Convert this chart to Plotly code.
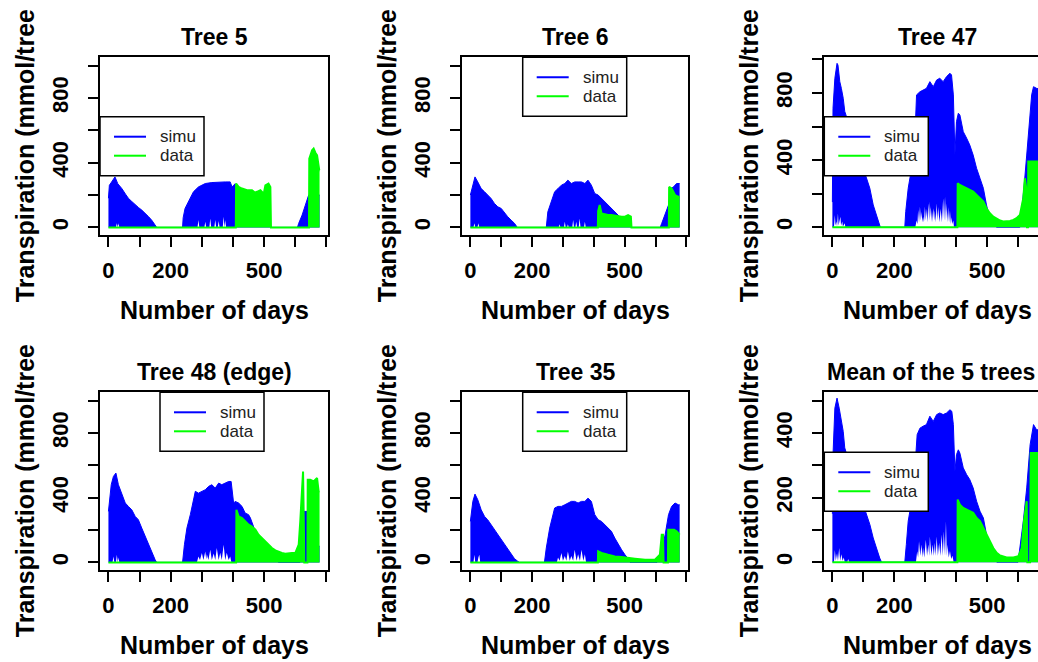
import plotly.graph_objects as go

# ---------------- data ----------------
tree5_simu_days = [0, 3, 10, 21, 30, 43, 55, 64, 75, 86, 97, 107, 118, 129, 140, 150, 155, 238, 240, 246, 257, 273, 289, 300, 311, 332, 354, 375, 391, 397, 407, 411, 450, 490, 520, 522, 607, 611, 622, 632, 643, 660, 678]
tree5_simu = [180, 260, 280, 312, 270, 240, 205, 180, 160, 138, 122, 107, 88, 66, 42, 14, 0, 0, 60, 117, 158, 220, 250, 262, 271, 277, 281, 281, 281, 250, 270, 250, 180, 100, 20, 0, 0, 25, 76, 138, 200, 200, 200]
tree5_gap_days = [24, 27, 30, 32, 35, 286, 289, 292, 308, 311, 314, 324, 327, 330, 340, 343, 346, 351, 354, 357, 367, 370, 373, 375, 378]
tree5_gap = [0, 25, 0, 25, 0, 0, 45, 0, 0, 35, 0, 0, 55, 0, 0, 45, 0, 0, 40, 0, 0, 66, 0, 45, 0]
tree5_data_days = [0, 409, 410, 418, 429, 437, 445, 461, 470, 477, 488, 495, 498, 504, 514, 520, 522, 644, 645, 654, 659, 665, 670, 677, 678]
tree5_data = [0, 0, 271, 250, 240, 235, 230, 230, 215, 220, 230, 215, 200, 260, 271, 250, 0, 0, 425, 476, 487, 460, 445, 353, 353]

tree6_simu_days = [0, 8, 15, 24, 35, 46, 56, 67, 78, 89, 100, 111, 121, 132, 143, 152, 246, 251, 262, 273, 284, 295, 306, 316, 327, 338, 349, 360, 371, 381, 392, 403, 414, 425, 436, 446, 457, 468, 479, 490, 501, 511, 522, 615, 620, 631, 642, 647, 650, 658, 668, 678]
tree6_simu = [200, 271, 312, 281, 240, 220, 200, 179, 148, 127, 117, 86, 66, 45, 25, 0, 0, 96, 158, 220, 240, 261, 271, 292, 271, 281, 281, 281, 271, 292, 261, 209, 200, 179, 158, 138, 117, 96, 76, 55, 35, 14, 0, 0, 25, 76, 138, 200, 240, 250, 271, 271]
tree6_gap_days = [10, 13, 16, 23, 26, 29, 286, 289, 292, 303, 306, 309, 313, 316, 319, 330, 333, 336, 340, 343, 346, 351, 354, 357, 368, 371, 374]
tree6_gap = [0, 25, 0, 0, 25, 0, 0, 20, 0, 0, 35, 0, 0, 20, 0, 0, 45, 0, 0, 35, 0, 0, 55, 0, 0, 35, 0]
tree6_data_days = [0, 413, 414, 419, 425, 436, 446, 457, 468, 479, 490, 501, 511, 520, 522, 643, 644, 652, 663, 674, 678]
tree6_data = [0, 0, 100, 138, 86, 80, 76, 76, 72, 70, 66, 66, 76, 66, 0, 0, 250, 240, 200, 189, 189]

tree47_simu_days = [0, 2, 8, 15, 18, 24, 29, 35, 40, 50, 60, 70, 80, 90, 100, 110, 115, 121, 132, 142, 151, 155, 234, 237, 245, 256, 266, 272, 283, 293, 304, 315, 326, 337, 347, 358, 369, 380, 385, 391, 396, 401, 407, 412, 423, 434, 444, 455, 466, 477, 488, 498, 509, 520, 531, 606, 612, 619, 628, 637, 644, 650, 660, 678]
tree47_simu = [150, 708, 887, 976, 966, 867, 827, 768, 690, 634, 578, 522, 466, 410, 355, 299, 272, 232, 133, 73, 24, 0, 0, 93, 232, 351, 510, 788, 807, 817, 827, 867, 837, 877, 887, 867, 897, 917, 907, 788, 430, 629, 679, 669, 569, 530, 490, 430, 351, 292, 232, 133, 54, 14, 0, 0, 93, 232, 430, 629, 788, 837, 827, 820]
tree47_gap_days = [5, 8, 10, 13, 15, 18, 20, 26, 28, 32, 34, 40, 42, 268, 272, 275, 277, 280, 283, 286, 288, 291, 293, 296, 299, 302, 304, 307, 310, 313, 315, 317, 318, 322, 326, 329, 331, 334, 337, 340, 342, 346, 350, 354, 358, 361, 364, 367, 369, 372, 374, 377, 380, 383, 385, 388, 391, 393]
tree47_gap = [0, 73, 10, 34, 5, 83, 10, 63, 10, 34, 5, 24, 0, 0, 40, 20, 103, 30, 123, 40, 93, 30, 63, 30, 123, 40, 110, 30, 143, 40, 153, 60, 120, 30, 113, 40, 100, 30, 143, 40, 120, 30, 110, 30, 173, 40, 183, 40, 143, 30, 120, 30, 100, 20, 60, 20, 40, 0]
tree47_data_days = [0, 404, 405, 412, 423, 434, 444, 455, 466, 477, 488, 498, 509, 520, 531, 542, 552, 563, 574, 585, 595, 606, 612, 617, 622, 626, 629, 632, 633, 650, 660, 678]
tree47_data = [0, 0, 262, 252, 242, 232, 222, 212, 192, 173, 153, 113, 83, 63, 50, 40, 34, 34, 38, 44, 54, 73, 120, 173, 292, 240, 0, 0, 391, 391, 391, 391]

tree48_simu_days = [0, 9, 16, 24, 32, 43, 54, 64, 75, 86, 96, 107, 118, 129, 139, 150, 155, 238, 244, 252, 263, 273, 279, 289, 300, 311, 322, 332, 343, 354, 364, 375, 386, 394, 402, 407, 418, 429, 439, 450, 456, 470, 490, 510, 530, 545, 615, 620, 625, 630, 639, 641, 678]
tree48_simu = [315, 480, 531, 552, 480, 418, 367, 346, 325, 284, 264, 212, 161, 109, 58, 16, 0, 0, 109, 212, 295, 377, 439, 428, 439, 449, 470, 480, 459, 490, 480, 490, 500, 500, 367, 377, 367, 346, 305, 295, 274, 200, 140, 90, 40, 0, 0, 100, 315, 315, 315, 100, 100]
tree48_gap_days = [13, 16, 19, 24, 27, 30, 32, 35, 284, 289, 294, 300, 305, 311, 314, 316, 321, 327, 332, 338, 343, 348, 354, 359, 364, 370, 375, 380, 386, 391, 395]
tree48_gap = [0, 37, 0, 0, 47, 0, 30, 0, 0, 37, 15, 58, 15, 68, 20, 50, 15, 78, 15, 55, 15, 89, 15, 60, 15, 109, 15, 60, 15, 37, 0]
tree48_data_days = [0, 410, 411, 418, 429, 439, 450, 461, 472, 482, 493, 504, 514, 525, 536, 547, 557, 568, 579, 589, 600, 611, 616, 622, 625, 628, 629, 639, 640, 648, 659, 670, 675, 678]
tree48_data = [0, 0, 325, 284, 274, 253, 233, 222, 202, 171, 150, 130, 109, 89, 74, 64, 58, 54, 58, 58, 58, 109, 253, 459, 562, 171, 0, 0, 511, 511, 500, 521, 439, 439]

tree35_simu_days = [0, 8, 15, 24, 35, 46, 56, 67, 78, 89, 100, 111, 121, 132, 143, 154, 159, 240, 246, 257, 268, 273, 284, 295, 306, 316, 327, 338, 349, 360, 371, 381, 392, 403, 414, 425, 436, 446, 457, 468, 479, 490, 501, 511, 517, 605, 609, 620, 631, 642, 652, 663, 674, 678]
tree35_simu = [253, 377, 422, 387, 325, 284, 264, 233, 202, 171, 140, 109, 78, 47, 23, 6, 0, 0, 89, 212, 295, 336, 346, 346, 356, 367, 377, 377, 367, 377, 377, 397, 377, 295, 264, 253, 233, 212, 192, 150, 109, 78, 47, 23, 0, 0, 16, 68, 171, 295, 346, 367, 356, 356]
tree35_gap_days = [10, 13, 16, 23, 26, 29, 32, 280, 284, 289, 295, 300, 306, 311, 316, 322, 327, 333, 338, 344, 349, 355, 360, 366, 371, 375]
tree35_gap = [0, 47, 0, 0, 30, 47, 0, 0, 30, 10, 58, 10, 40, 10, 68, 10, 40, 10, 78, 10, 50, 10, 78, 10, 50, 0]
tree35_data_days = [0, 413, 414, 425, 446, 468, 490, 511, 533, 566, 598, 614, 620, 624, 626, 640, 641, 650, 660, 668, 676, 678]
tree35_data = [0, 0, 68, 58, 47, 37, 33, 27, 23, 16, 16, 47, 171, 171, 0, 0, 202, 202, 202, 192, 171, 171]

mean_simu_days = [0, 2, 8, 15, 22, 29, 35, 40, 50, 60, 70, 80, 90, 100, 110, 115, 121, 132, 142, 153, 159, 234, 239, 245, 256, 266, 274, 283, 293, 304, 315, 326, 337, 347, 358, 369, 380, 386, 391, 396, 401, 407, 412, 423, 434, 444, 455, 466, 477, 488, 498, 509, 520, 531, 600, 606, 617, 628, 639, 650, 660, 678]
mean_simu = [150, 333, 477, 508, 477, 436, 405, 354, 320, 290, 260, 235, 205, 180, 150, 137, 117, 75, 44, 13, 0, 0, 55, 127, 189, 281, 395, 415, 421, 426, 452, 436, 457, 462, 457, 462, 472, 467, 426, 281, 333, 348, 338, 292, 271, 256, 230, 189, 158, 137, 86, 34, 13, 0, 0, 44, 127, 230, 364, 426, 410, 410]
mean_gap_days = [5, 8, 11, 15, 18, 22, 25, 29, 33, 37, 40, 48, 51, 54, 270, 274, 277, 280, 284, 288, 291, 293, 297, 302, 306, 310, 313, 315, 320, 324, 328, 331, 334, 337, 341, 345, 349, 353, 357, 360, 364, 367, 370, 372, 376, 380, 384, 388, 392]
mean_gap = [0, 38, 5, 28, 5, 44, 5, 25, 5, 15, 0, 0, 10, 0, 0, 34, 15, 65, 20, 55, 15, 45, 15, 70, 20, 55, 20, 80, 20, 55, 20, 60, 20, 80, 20, 60, 20, 86, 20, 96, 20, 127, 20, 55, 15, 35, 10, 20, 0]
mean_data_days = [0, 404, 405, 412, 423, 434, 444, 455, 466, 477, 488, 498, 509, 520, 531, 542, 563, 585, 601, 612, 619, 628, 630, 639, 641, 650, 660, 678]
mean_data = [0, 0, 194, 178, 168, 163, 158, 153, 137, 127, 106, 86, 65, 44, 29, 21, 15, 15, 19, 44, 127, 189, 0, 0, 338, 338, 338, 338]

titles = ["Tree 5", "Tree 6", "Tree 47", "Tree 48 (edge)", "Tree 35", "Mean of the 5 trees"]
x_ticks = [0, 100, 200, 300, 400, 500, 600, 700]
x_ticktext = ["0", "", "200", "", "", "500", "", ""]
y_ticks_tree = [0, 200, 400, 600, 800, 1000]
y_ticktext_tree = ["0", "", "400", "", "800", ""]
y_ticks_mean = [0, 100, 200, 300, 400, 500]
y_ticktext_mean = ["0", "", "200", "", "400", ""]
series_names = ["simu", "data"]
series_colors = ["#0000FF", "#00FF00"]

# ---------------- layout helpers ----------------
W, H = 1038, 662
def px(x):
    return x / W
def py(y):
    return 1 - y / H

FONT = "Liberation Sans, Arial, sans-serif"

panels = [
    dict(sd=tree5_simu_days, s=tree5_simu, gd=tree5_gap_days, g=tree5_gap, dd=tree5_data_days, d=tree5_data,
         box=(100, 328), row=(57.3, 235), xr=[-27.1, 705.1], yr=[-47, 1051],
         yt=(y_ticks_tree, y_ticktext_tree), leg=(100, 116.7), cut=False),
    dict(sd=tree6_simu_days, s=tree6_simu, gd=tree6_gap_days, g=tree6_gap, dd=tree6_data_days, d=tree6_data,
         box=(462, 688), row=(57.3, 235), xr=[-27.1, 705.1], yr=[-47, 1051],
         yt=(y_ticks_tree, y_ticktext_tree), leg=(522.7, 57.3), cut=False),
    dict(sd=tree47_simu_days, s=tree47_simu, gd=tree47_gap_days, g=tree47_gap, dd=tree47_data_days, d=tree47_data,
         box=(824, 1038), row=(57.3, 235), xr=[-27.1, 664.5], yr=[-46, 1012],
         yt=(y_ticks_tree, y_ticktext_tree), leg=(824.3, 116.7), cut=True),
    dict(sd=tree48_simu_days, s=tree48_simu, gd=tree48_gap_days, g=tree48_gap, dd=tree48_data_days, d=tree48_data,
         box=(100, 328), row=(392.3, 570), xr=[-27.1, 705.1], yr=[-47, 1051],
         yt=(y_ticks_tree, y_ticktext_tree), leg=(160, 392.3), cut=False),
    dict(sd=tree35_simu_days, s=tree35_simu, gd=tree35_gap_days, g=tree35_gap, dd=tree35_data_days, d=tree35_data,
         box=(462, 688), row=(392.3, 570), xr=[-27.1, 705.1], yr=[-47, 1051],
         yt=(y_ticks_tree, y_ticktext_tree), leg=(522.7, 392.3), cut=False),
    dict(sd=mean_simu_days, s=mean_simu, gd=mean_gap_days, g=mean_gap, dd=mean_data_days, d=mean_data,
         box=(824, 1038), row=(392.3, 570), xr=[-27.1, 664.5], yr=[-24, 526],
         yt=(y_ticks_mean, y_ticktext_mean), leg=(824.3, 452.3), cut=True),
]

fig = go.Figure()
layout = dict(
    width=W, height=H, margin=dict(l=0, r=0, t=0, b=0),
    paper_bgcolor="white", plot_bgcolor="white", showlegend=False,
    font=dict(family=FONT, color="black"),
)
annotations = []
shapes = []
tick_font = dict(family=FONT, size=22, color="black", weight=700)

for i, p in enumerate(panels):
    n = i + 1
    xa = "x" if n == 1 else f"x{n}"
    ya = "y" if n == 1 else f"y{n}"
    # simu (blue), its low-end gaps (white), then data (green) on top
    fig.add_trace(go.Scatter(x=p["sd"], y=p["s"], xaxis=xa, yaxis=ya, mode="lines",
                             line=dict(color=series_colors[0], width=1),
                             fill="tozeroy", fillcolor=series_colors[0], hoverinfo="skip"))
    fig.add_trace(go.Scatter(x=p["gd"], y=p["g"], xaxis=xa, yaxis=ya, mode="lines",
                             line=dict(color="white", width=0),
                             fill="tozeroy", fillcolor="white", hoverinfo="skip"))
    fig.add_trace(go.Scatter(x=p["dd"], y=p["d"], xaxis=xa, yaxis=ya, mode="lines",
                             line=dict(color=series_colors[1], width=2),
                             fill="tozeroy", fillcolor=series_colors[1], hoverinfo="skip"))
    # empty trace so that the label-carrying overlay axis is rendered
    fig.add_trace(go.Scatter(x=[], y=[], xaxis=xa, yaxis=f"y{n + 6}", mode="lines",
                             hoverinfo="skip"))
    x0, x1 = p["box"]
    y0, y1 = p["row"]
    axis_common = dict(
        showline=True, linecolor="black", linewidth=1.5, ticks="outside",
        ticklen=10, tickwidth=1.5, tickcolor="black", showgrid=False,
        zeroline=False, tickfont=tick_font,
    )
    layout["xaxis" if n == 1 else f"xaxis{n}"] = dict(
        axis_common, domain=[px(x0), px(x1)], range=p["xr"], anchor=ya,
        mirror=True, tickmode="array", tickvals=x_ticks, ticktext=x_ticktext,
        ticklabelstandoff=5)
    layout["yaxis" if n == 1 else f"yaxis{n}"] = dict(
        axis_common, domain=[py(y1), py(y0)], range=p["yr"], anchor=xa,
        mirror=not p["cut"], tickmode="array", tickvals=p["yt"][0],
        showticklabels=False)
    # overlay axis carrying the rotated y tick labels, pushed away from the box
    layout[f"yaxis{n + 6}"] = dict(
        overlaying=ya, anchor=xa, side="left", range=p["yr"], showline=False,
        showgrid=False, zeroline=False, ticks="outside", ticklen=22,
        tickcolor="rgba(0,0,0,0)", tickmode="array", tickvals=p["yt"][0],
        ticktext=p["yt"][1], tickangle=-90, tickfont=tick_font)
    full_x1 = x0 + 226.5 if p["cut"] else x1
    cx = (x0 + full_x1) / 2
    title_font = dict(size=23, weight=700, family=FONT)
    if i == 5:
        annotations.append(dict(text=titles[i], x=px(1037), y=py(y0 - 20), xref="paper", yref="paper",
                                showarrow=False, font=title_font, xanchor="right", yanchor="middle"))
    else:
        annotations.append(dict(text=titles[i], x=px(cx), y=py(y0 - 20), xref="paper", yref="paper",
                                showarrow=False, font=title_font, xanchor="center", yanchor="middle"))
    annotations.append(dict(text="Number of days", x=px(cx), y=py(y1 + 75), xref="paper", yref="paper",
                            showarrow=False, font=dict(size=25, weight=700, family=FONT),
                            xanchor="center", yanchor="middle"))
    annotations.append(dict(text="Transpiration (mmol/tree", x=px(x0 - 75), y=py((y0 + y1) / 2 + 10),
                            xref="paper", yref="paper", textangle=-90, showarrow=False,
                            font=dict(size=25, weight=700, family=FONT),
                            xanchor="center", yanchor="middle"))
    lx, ly = p["leg"]
    shapes.append(dict(type="rect", xref="paper", yref="paper", x0=px(lx), x1=px(lx + 104),
                       y0=py(ly + 59), y1=py(ly), line=dict(color="black", width=1.5),
                       fillcolor="white", layer="above"))
    for k in range(2):
        yy = ly + 20 + 19 * k
        shapes.append(dict(type="line", xref="paper", yref="paper", x0=px(lx + 14), x1=px(lx + 46),
                           y0=py(yy), y1=py(yy), line=dict(color=series_colors[k], width=2),
                           layer="above"))
        annotations.append(dict(text=series_names[k], x=px(lx + 58), y=py(yy), xref="paper",
                                yref="paper", showarrow=False, xanchor="left", yanchor="middle",
                                font=dict(size=17, color="#222222", family=FONT)))

layout["annotations"] = annotations
layout["shapes"] = shapes
fig.update_layout(**layout)
fig.write_html("out.html")
